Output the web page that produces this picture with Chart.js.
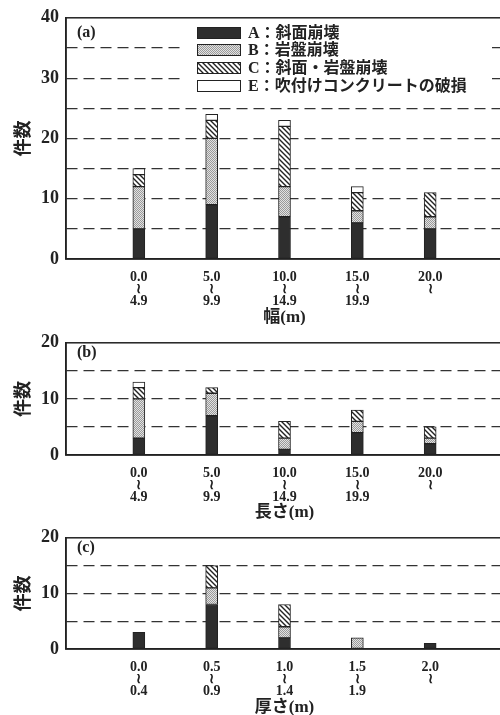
<!DOCTYPE html>
<html>
<head>
<meta charset="utf-8">
<script src="https://cdn.jsdelivr.net/npm/chart.js@4.4.0/dist/chart.umd.min.js"></script>
<style>
html, body { margin: 0; padding: 0; background: #fff; overflow: hidden; width: 500px; height: 715px; }
.panel { position: absolute; left: 0; width: 510px; }
</style>
</head>
<body>
<div class="panel" style="top:0;height:325px"><canvas id="ca"></canvas></div>
<div class="panel" style="top:325px;height:195px"><canvas id="cb"></canvas></div>
<div class="panel" style="top:520px;height:195px"><canvas id="cc"></canvas></div>
<script>
// 幅 (width)
const widthLabels = [['0.0', '≀', '4.9'], ['5.0', '≀', '9.9'], ['10.0', '≀', '14.9'], ['15.0', '≀', '19.9'], ['20.0', '≀']];
const widthA = [5, 9, 7, 6, 5];
const widthB = [7, 11, 5, 2, 2];
const widthC = [2, 3, 10, 3, 4];
const widthE = [1, 1, 1, 1, 0];

// 長さ (length)
const lengthLabels = [['0.0', '≀', '4.9'], ['5.0', '≀', '9.9'], ['10.0', '≀', '14.9'], ['15.0', '≀', '19.9'], ['20.0', '≀']];
const lengthA = [3, 7, 1, 4, 2];
const lengthB = [7, 4, 2, 2, 1];
const lengthC = [2, 1, 3, 2, 2];
const lengthE = [1, 0, 0, 0, 0];

// 厚さ (thickness)
const thickLabels = [['0.0', '≀', '0.4'], ['0.5', '≀', '0.9'], ['1.0', '≀', '1.4'], ['1.5', '≀', '1.9'], ['2.0', '≀']];
const thickA = [3, 8, 2, 0, 1];
const thickB = [0, 3, 2, 2, 0];
const thickC = [0, 4, 4, 0, 0];
const thickE = [0, 0, 0, 0, 0];

const legendNames = ['A：斜面崩壊', 'B：岩盤崩壊', 'C：斜面・岩盤崩壊', 'E：吹付けコンクリートの破損'];

const serif = "'Liberation Serif', 'DejaVu Serif', serif";
const mixed = "'Liberation Serif', 'Noto Sans CJK JP', serif";

function makeDots() {
    const c = document.createElement('canvas');
    c.width = 2; c.height = 2;
    const g = c.getContext('2d');
    g.fillStyle = '#e2e2e2';
    g.fillRect(0, 0, 2, 2);
    g.fillStyle = '#9a9a9a';
    g.fillRect(0, 0, 1, 1);
    g.fillRect(1, 1, 1, 1);
    return g.createPattern(c, 'repeat');
}

function makeHatch() {
    const s = 5;
    const c = document.createElement('canvas');
    c.width = s; c.height = s;
    const g = c.getContext('2d');
    g.fillStyle = '#fff';
    g.fillRect(0, 0, s, s);
    g.strokeStyle = '#222';
    g.lineWidth = 1.4;
    g.beginPath();
    g.moveTo(-1, -1); g.lineTo(s + 1, s + 1);
    g.moveTo(-1, s - 1); g.lineTo(1, s + 1);
    g.moveTo(s - 1, -1); g.lineTo(s + 1, 1);
    g.stroke();
    return g.createPattern(c, 'repeat');
}

const fills = ['#2e2e2e', makeDots(), makeHatch(), '#ffffff'];

function pad(arr) {
    return [null, ...arr.map(v => v === 0 ? null : v), null];
}

const framePlugin = {
    id: 'frame',
    afterDraw(chart, args, opts) {
        const { ctx, chartArea: a } = chart;
        ctx.save();
        ctx.strokeStyle = '#222';
        ctx.lineWidth = 1.5;
        ctx.strokeRect(a.left, a.top, a.right - a.left, a.bottom - a.top);

        ctx.fillStyle = '#222';
        ctx.font = 'bold 16px ' + serif;
        ctx.textBaseline = 'middle';
        ctx.textAlign = 'left';
        ctx.fillText(opts.tag, a.left + 11, opts.tagY);

        if (opts.legend) {
            ctx.fillStyle = '#fff';
            ctx.fillRect(180, 20, 312, 76);
            const rows = [33, 50, 68, 86];
            rows.forEach((y, i) => {
                ctx.fillStyle = fills[i];
                ctx.fillRect(197, y - 5, 43, 10);
                ctx.strokeStyle = '#222';
                ctx.lineWidth = 1;
                ctx.strokeRect(197.5, y - 5.5, 43, 11);
                ctx.fillStyle = '#222';
                ctx.font = 'bold 16px ' + mixed;
                ctx.fillText(legendNames[i], 248, y + 1);
            });
        }
        ctx.restore();
    }
};

function buildChart(id, labels, A, B, C, E, opt) {
    const sets = [A, B, C, E].map((vals, i) => ({
        label: legendNames[i],
        data: pad(vals),
        backgroundColor: fills[i],
        borderColor: '#222',
        borderWidth: 1,
        borderSkipped: false,
        barThickness: 12
    }));
    return new Chart(document.getElementById(id), {
        type: 'bar',
        data: { labels: ['', ...labels, ''], datasets: sets },
        plugins: [framePlugin],
        options: {
            responsive: true,
            maintainAspectRatio: false,
            animation: false,
            layout: { padding: { top: opt.top, right: 7, left: 0, bottom: 0 } },
            plugins: {
                legend: { display: false },
                tooltip: { enabled: false },
                frame: { tag: opt.tag, tagY: opt.tagY, legend: opt.legend }
            },
            scales: {
                x: {
                    stacked: true,
                    offset: false,
                    afterFit: s => { s.height = opt.xHeight; },
                    grid: { display: false, offset: false },
                    border: { display: true, color: '#222', width: 1.5 },
                    ticks: {
                        autoSkip: false,
                        maxRotation: 0,
                        minRotation: 0,
                        padding: 4,
                        color: '#222',
                        font: { family: serif, size: 14, weight: 'bold', lineHeight: '12px' }
                    },
                    title: {
                        display: true,
                        text: opt.xTitle,
                        color: '#222',
                        padding: { top: 0, bottom: 0 },
                        font: { family: mixed, size: 17, weight: 'bold', lineHeight: '14px' }
                    }
                },
                y: {
                    stacked: true,
                    min: 0,
                    max: opt.max,
                    afterFit: s => { s.width = 66; },
                    grid: {
                        drawTicks: false,
                        lineWidth: 1.2,
                        color: c => (c.tick.value === 0 || c.tick.value === opt.max) ? 'rgba(0,0,0,0)' : '#333'
                    },
                    border: { display: true, color: '#222', width: 1.5, dash: [11, 6] },
                    ticks: {
                        stepSize: 5,
                        padding: 7,
                        color: '#222',
                        font: { family: serif, size: 18, weight: 'bold' },
                        callback: v => v % 10 === 0 ? v : ''
                    },
                    title: {
                        display: true,
                        text: '件数',
                        color: '#222',
                        padding: { top: 11, bottom: 0 },
                        font: { family: "'Noto Sans CJK JP'", size: 18, weight: 'bold' }
                    }
                }
            }
        }
    });
}

buildChart('ca', widthLabels, widthA, widthB, widthC, widthE,
    { top: 15, xHeight: 66, max: 40, tag: '(a)', tagY: 33, legend: true, xTitle: '幅(m)' });
buildChart('cb', lengthLabels, lengthA, lengthB, lengthC, lengthE,
    { top: 8, xHeight: 65, max: 20, tag: '(b)', tagY: 28, legend: false, xTitle: '長さ(m)' });
buildChart('cc', thickLabels, thickA, thickB, thickC, thickE,
    { top: 7, xHeight: 66, max: 20, tag: '(c)', tagY: 28, legend: false, xTitle: '厚さ(m)' });
</script>
</body>
</html>
